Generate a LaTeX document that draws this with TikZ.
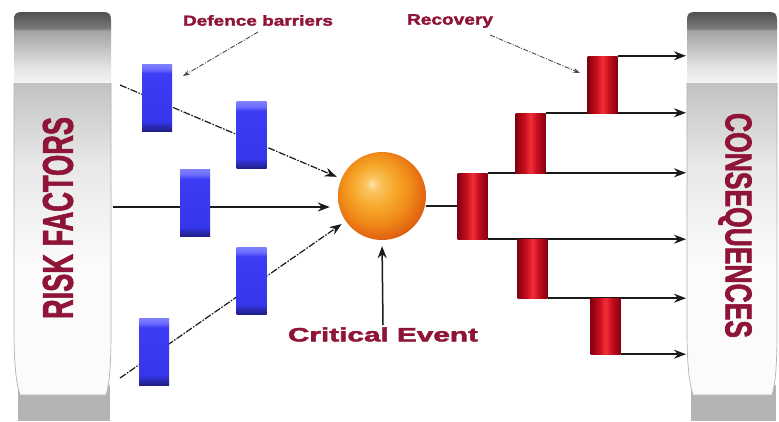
\documentclass[tikz,border=0pt]{standalone}
\usepackage{fontspec}
\setmainfont{Liberation Sans}
\newfontfamily\heavyfont[BoldFeatures={FakeBold=2}]{Liberation Sans}
\usetikzlibrary{arrows.meta}
\definecolor{txt}{HTML}{8E1538}
\definecolor{capA}{HTML}{F4F4F4}
\definecolor{capB}{HTML}{E4E4E4}
\definecolor{capC}{HTML}{A2A2A2}
\definecolor{capD}{HTML}{7A7A7A}
\definecolor{capE}{HTML}{505050}
\definecolor{bodyA}{HTML}{FBFBFB}
\definecolor{bodyB}{HTML}{E8E8E8}
\definecolor{bodyC}{HTML}{C2C2C2}
\definecolor{pbase}{HTML}{B4B4B4}
\definecolor{blA}{HTML}{1E1E88}
\definecolor{blB}{HTML}{2C2CB8}
\definecolor{blC}{HTML}{3636EC}
\definecolor{blD}{HTML}{3C3CF4}
\definecolor{blE}{HTML}{6A6AFF}
\definecolor{blF}{HTML}{8080FF}
\definecolor{rdA}{HTML}{840010}
\definecolor{rdB}{HTML}{C80E1E}
\definecolor{rdC}{HTML}{F03038}
\definecolor{bhA}{HTML}{FFE2A8}
\definecolor{bhB}{HTML}{FBC460}
\definecolor{bhC}{HTML}{F6A82A}
\definecolor{bhD}{HTML}{F08A18}
\definecolor{bhE}{HTML}{E06010}
\definecolor{bhF}{HTML}{C04A0C}
\definecolor{lnC}{HTML}{1A1A1A}
\pgfdeclareverticalshading{capshade}{100bp}{color(0bp)=(capA); color(25bp)=(capA); color(36bp)=(capB); color(62bp)=(capC); color(63.5bp)=(capD); color(75bp)=(capE); color(100bp)=(capE)}
\pgfdeclareverticalshading{bodyshade}{100bp}{color(0bp)=(bodyA); color(25bp)=(bodyA); color(46bp)=(bodyA); color(62bp)=(bodyB); color(75bp)=(bodyC); color(100bp)=(bodyC)}
\pgfdeclareverticalshading{bluebar}{100bp}{color(0bp)=(blA); color(25bp)=(blA); color(29bp)=(blB); color(32bp)=(blC); color(68bp)=(blD); color(71bp)=(blE); color(75bp)=(blF); color(100bp)=(blF)}
\pgfdeclarehorizontalshading{redbar}{100bp}{color(0bp)=(rdA); color(25bp)=(rdA); color(40bp)=(rdB); color(50bp)=(rdC); color(60bp)=(rdB); color(75bp)=(rdA); color(100bp)=(rdA)}
\pgfdeclareradialshading{orangeball}{\pgfpoint{-6bp}{7bp}}{color(0bp)=(bhA); color(4bp)=(bhB); color(12bp)=(bhC); color(20bp)=(bhD); color(28bp)=(bhE); color(36bp)=(bhF); color(50bp)=(bhF)}
\pgfdeclarelayer{bg}
\pgfsetlayers{bg,main}
\newcommand\pillarshape[2]{%
  \fill[pbase] (#1+4,385) -- (#1+4,421) -- (#2-1,421) -- (#2-1,385) -- cycle;
  \shadedraw[shading=bodyshade, draw=gray!60, line width=0.7pt] (#1,83) -- (#1,330) .. controls (#1,370) and (#1+3,385) .. (#1+6,395) -- (#2-5,395) .. controls (#2-2,385) and (#2,370) .. (#2,330) -- (#2,83) -- cycle;
  \shade[shading=capshade] (#1,83) -- (#1,20) .. controls (#1,14) and (#1+2,12) .. (#1+8,12) -- (#2-8,12) .. controls (#2-2,12) and (#2,14) .. (#2,20) -- (#2,83) -- cycle;
}
\begin{document}
\begin{tikzpicture}[x=1pt,y=-1pt,
  bbar/.style={rectangle, shade, shading=bluebar, minimum width=30pt, minimum height=67pt, inner sep=0pt},
  rbar/.style={rectangle, shade, shading=redbar, minimum width=30pt, inner sep=0pt},
  bigtxt/.style={text=txt, inner sep=0pt, font=\heavyfont\bfseries},
  lbl/.style={text=txt, inner sep=1pt, font=\heavyfont\bfseries},
  arr/.style={-{Stealth[length=12pt,width=9pt]}, line width=1.5pt, draw=lnC},
  plain/.style={line width=1.5pt, draw=lnC},
  dasharr/.style={arr, line width=1.2pt, dash pattern=on 7pt off 1.5pt on 1.5pt off 1.5pt},
  lblarr/.style={-{Stealth[length=7pt,width=5pt]}, line width=0.9pt, draw=black!70, dash pattern=on 5pt off 1.5pt on 1pt off 1.5pt}]
\useasboundingbox (0,0) rectangle (779,421);

% barriers
\node[bbar] (b1) at (157,97.5) {};
\node[bbar] (b2) at (251.5,135) {};
\node[bbar] (b3) at (195,203) {};
\node[bbar] (b4) at (251.5,280.5) {};
\node[bbar] (b5) at (154,351.5) {};
% recovery
\node[rbar, minimum height=66pt] (r1) at (472.5,206) {};
\node[rbar, minimum height=60pt] (r2) at (530.5,143) {};
\node[rbar, minimum height=57pt] (r3) at (602.5,84.5) {};
\node[rbar, minimum height=59pt] (r4) at (532.5,268.5) {};
\node[rbar, minimum height=56pt] (r5) at (605.5,326) {};
% ball
\node[circle, shade, shading=orangeball, minimum size=88pt, inner sep=0pt] (ball) at (382,196) {};

% labels
\node[lbl] (db) at (258,20.5) {\resizebox{150pt}{10.5pt}{Defence barriers}};
\node[lbl] (rec) at (450,21) {\resizebox{86pt}{10.5pt}{Recovery}};
\node[lbl, inner sep=2pt] (ce) at (383,334.5) {\resizebox{190pt}{14pt}{Critical Event}};

\coordinate (rf1) at (120,85);
\coordinate (rf2) at (113,207);
\coordinate (rf3) at (120,378);
\coordinate (cw) at (686,0);
\coordinate (dbtip) at (183,76);
\coordinate (rectip) at (580,73);

\begin{pgfonlayer}{bg}
  \fill[white] (0,0) rectangle (779,421);
  \pillarshape{14}{111}
  \pillarshape{687}{777}
  \draw[dasharr, shorten >=5pt] (rf1) -- (ball);
  \draw[arr, shorten >=8pt] (rf2) -- (rf2 -| ball.west);
  \draw[dasharr, shorten >=5pt] (rf3) -- (ball);
  \draw[plain] (ball.east |- r1.west) -- (r1.west);
  \draw[arr] (r3.north east) -- (r3.north east -| cw);
  \draw[arr] (r2.north east) -- (r2.north east -| cw);
  \draw[arr] (r1.north east) -- (r1.north east -| cw);
  \draw[arr] (r1.south east) -- (r1.south east -| cw);
  \draw[arr] (r4.south east) -- (r4.south east -| cw);
  \draw[arr] (r5.south east) -- (r5.south east -| cw);
\end{pgfonlayer}
\node[bigtxt, rotate=90] (rf) at (58,218) {\resizebox{202pt}{30pt}{RISK FACTORS}};
\node[bigtxt, rotate=-90] (cq) at (735,225.5) {\resizebox{225pt}{26pt}{CONSEQUENCES}};
\draw[arr, shorten >=6pt] (ce.north) -- (ball.south);
\draw[lblarr] ([yshift=-5pt]db.south) -- (dbtip);
\draw[lblarr] ([xshift=-4pt,yshift=-6pt]rec.south east) -- (rectip);
\end{tikzpicture}
\end{document}
